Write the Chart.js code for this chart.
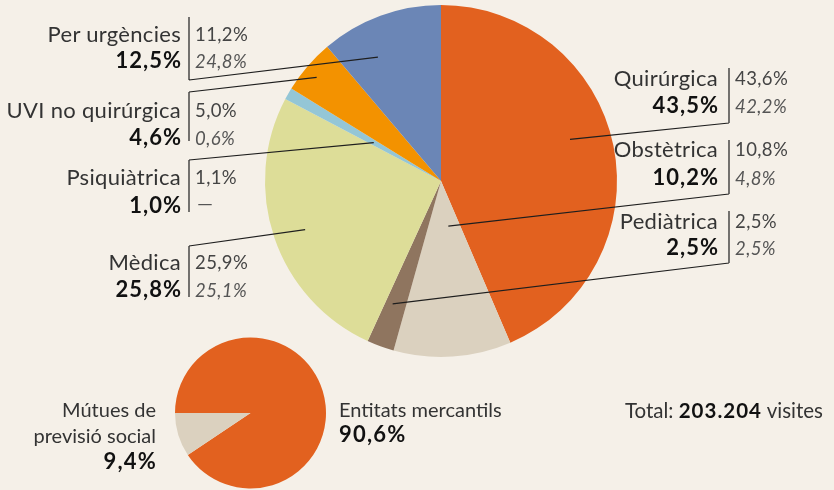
<!DOCTYPE html>
<html>
<head>
<meta charset="utf-8">
<script src="https://cdn.jsdelivr.net/npm/chart.js@4.4.1/dist/chart.umd.min.js"></script>
<style>
  body { margin: 0; background: #f5f0e8; }
  #wrap { position: relative; width: 834px; height: 490px; overflow: hidden; }
  #wrap canvas, #wrap svg { position: absolute; left: 0; top: 0; }
  svg { font-family: Lato, "Open Sans", sans-serif; }
</style>
</head>
<body>
<div id="wrap">
  <canvas id="big" width="834" height="490"></canvas>
  <canvas id="small" width="834" height="490"></canvas>
  <svg id="labels" width="834" height="490"></svg>
</div>
<script>
// especialitats (pastís gran)
var categories = ['Quirúrgica', 'Obstètrica', 'Pediàtrica', 'Mèdica', 'Psiquiàtrica', 'UVI no quirúrgica', 'Per urgències'];
var shareA = [43.6, 10.8, 2.5, 25.9, 1.1, 5.0, 11.2];    // primera columna (és la que dibuixa el pastís)
var shareB = [42.2, 4.8, 2.5, 25.1, null, 0.6, 24.8];    // cursiva
var shareTotal = [43.5, 10.2, 2.5, 25.8, 1.0, 4.6, 12.5]; // negreta
var colors = ['#e2611f', '#dbd1bf', '#8f755f', '#dddd98', '#94c6d6', '#f39200', '#6b86b6'];

// finançament (pastís petit)
var funders = ['Entitats mercantils', 'Mútues de\nprevisió social'];
var funderShares = [90.6, 9.4];
var funderColors = ['#e2611f', '#dbd1bf'];

var totalVisits = 203204;

// posició de les etiquetes: [costat, base línia 1, base línia 2, brida dalt, brida baix, d'on surt la línia]
var labelLayout = [
  ['right', 86, 113, 68, 123, 'bottom'],
  ['right', 157, 185, 140, 194, 'bottom'],
  ['right', 229, 255, 211, 263, 'bottom'],
  ['left', 270, 297, 246, 297, 'top'],
  ['left', 185, 213, 160, 212, 'top'],
  ['left', 118, 145, 92, 141, 'top'],
  ['left', 42, 68, 17, 80, 'bottom']
];
// on acaba la línia dins de cada tall (fracció de l'angle, fracció del radi)
var along = [0.46, 0.36, 0.65, 0.49, 0.5, 0.45, 0.33];
var reach = [0.77, 0.26, 0.75, 0.82, 0.44, 0.92, 0.79];

function fmt(v) {
  return v.toFixed(1).replace('.', ',') + '%';
}

var leaderLines = {
  id: 'leaderLines',
  afterDatasetsDraw: function(chart) {
    var ctx = chart.ctx;
    var arcs = chart.getDatasetMeta(0).data;
    ctx.save();
    ctx.strokeStyle = '#1e1e1e';
    ctx.lineWidth = 1.2;
    arcs.forEach(function(arc, i) {
      var l = labelLayout[i];
      var bx = l[0] === 'left' ? 189 : 729;
      var ang = arc.startAngle + (arc.endAngle - arc.startAngle) * along[i];
      var r = arc.outerRadius * reach[i];
      var ex = arc.x + Math.cos(ang) * r;
      var ey = arc.y + Math.sin(ang) * r;
      var sy = l[5] === 'top' ? l[3] : l[4];
      ctx.beginPath();
      ctx.moveTo(bx, l[3]);
      ctx.lineTo(bx, l[4]);
      ctx.moveTo(bx, sy);
      ctx.lineTo(ex, ey);
      ctx.stroke();
    });
    ctx.restore();
  }
};

new Chart(document.getElementById('big'), {
  type: 'pie',
  data: {
    labels: categories,
    datasets: [{ data: shareA, backgroundColor: colors, borderWidth: 0 }]
  },
  options: {
    responsive: false,
    animation: false,
    layout: { padding: { left: 265, right: 217, top: 5, bottom: 133 } },
    plugins: { legend: { display: false }, tooltip: { enabled: false } }
  },
  plugins: [leaderLines]
});

new Chart(document.getElementById('small'), {
  type: 'pie',
  data: {
    labels: funders,
    datasets: [{ data: funderShares, backgroundColor: funderColors, borderWidth: 0 }]
  },
  options: {
    responsive: false,
    animation: false,
    rotation: 270,
    layout: { padding: { left: 175, right: 508, top: 337, bottom: 1 } },
    plugins: { legend: { display: false }, tooltip: { enabled: false } }
  }
});

// textos
var ns = 'http://www.w3.org/2000/svg';
var svg = document.getElementById('labels');

function addText(x, y, str, size, color, weight, anchor, italic, spacing) {
  var t = document.createElementNS(ns, 'text');
  t.setAttribute('x', x);
  t.setAttribute('y', y);
  t.setAttribute('font-size', size);
  t.setAttribute('fill', color);
  t.setAttribute('font-weight', weight || 400);
  t.setAttribute('text-anchor', anchor || 'start');
  if (italic) t.setAttribute('font-style', 'italic');
  if (spacing) t.setAttribute('letter-spacing', spacing);
  t.textContent = str;
  svg.appendChild(t);
  return t;
}

categories.forEach(function(name, i) {
  var l = labelLayout[i];
  var nameX = l[0] === 'left' ? 181 : 718;
  var valX = l[0] === 'left' ? 195 : 735;
  addText(nameX, l[1], name, 22, '#333', 400, 'end', false, 0.3);
  addText(nameX + 1, l[2], fmt(shareTotal[i]), 22, '#111', 700, 'end', false, 1);
  addText(valX, l[1] - 1, fmt(shareA[i]), 18.5, '#444', 400, 'start', false, 0.4);
  if (shareB[i] === null) {
    var dash = addText(valX + 2, l[2] - 3, '—', 18.5, '#555', 400, 'start');
    dash.setAttribute('textLength', 16);
    dash.setAttribute('lengthAdjust', 'spacingAndGlyphs');
  } else {
    addText(valX, l[2], fmt(shareB[i]), 18.5, '#555', 400, 'start', true, 0.4);
  }
});

addText(339, 417, funders[0], 20, '#333', 400, 'start');
addText(339, 442, fmt(funderShares[0]), 22, '#111', 700, 'start', false, 1.2);
funders[1].split('\n').forEach(function(line, k) {
  addText(156, 417 + k * 26, line, 20, '#333', 400, 'end');
});
addText(157, 469, fmt(funderShares[1]), 22, '#111', 700, 'end', false, 1.2);

var t = document.createElementNS(ns, 'text');
t.setAttribute('x', 823);
t.setAttribute('y', 418);
t.setAttribute('font-size', 20.5);
t.setAttribute('fill', '#333');
t.setAttribute('text-anchor', 'end');
t.innerHTML = 'Total: <tspan font-weight="700" fill="#111" letter-spacing="1">' +
  String(totalVisits).replace(/\B(?=(\d{3})+(?!\d))/g, '.') + '</tspan> visites';
svg.appendChild(t);
</script>
</body>
</html>
